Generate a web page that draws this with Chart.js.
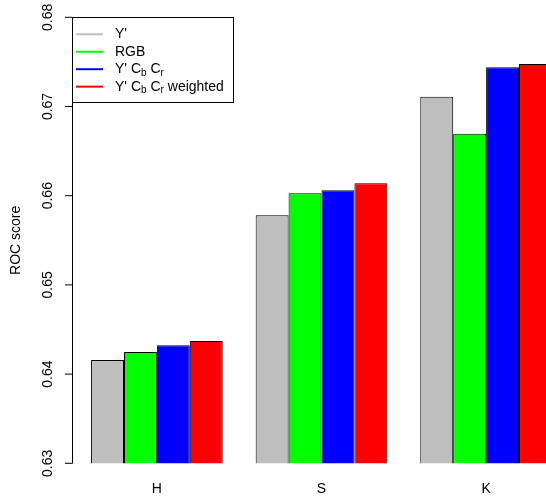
<!DOCTYPE html>
<html>
<head>
<meta charset="utf-8">
<script src="https://cdn.jsdelivr.net/npm/chart.js@4.4.0/dist/chart.umd.min.js"></script>
<style>
body { margin: 0; background: #fff; }
#wrap { width: 546px; height: 501px; }
</style>
</head>
<body>
<div id="wrap"><canvas id="rocChart" width="546" height="501"></canvas></div>
<script>
// data
var categories = ["H", "S", "K"];
var seriesNames = ["Y'", "RGB", "Y' C_b C_r", "Y' C_b C_r weighted"];
var seriesColors = ["#BEBEBE", "#00FF00", "#0000FF", "#FF0000"];
var yPrime = [0.64158, 0.65780, 0.67110];
var rgb = [0.64248, 0.66027, 0.66695];
var ycbcr = [0.64323, 0.66060, 0.67440];
var ycbcrWeighted = [0.64371, 0.66139, 0.67476];
var yTicks = [0.63, 0.64, 0.65, 0.66, 0.67, 0.68];
var yTitle = "ROC score";

var allSeries = [yPrime, rgb, ycbcr, ycbcrWeighted];
var fontFam = "'Liberation Sans', Arial, Helvetica, sans-serif";

// plot region runs past the right edge of the canvas (like the R plot)
var plotRight = 568.4;

var datasets = [];
for (var i = 0; i < allSeries.length; i++) {
    datasets.push({
        label: seriesNames[i],
        data: allSeries[i],
        backgroundColor: seriesColors[i],
        borderColor: "#000",
        borderWidth: 1,
        barPercentage: 1.0,
        categoryPercentage: 0.8
    });
}

// draws text where "_x" means x as a subscript
function drawRich(ctx, str, x, y) {
    var parts = str.split("_");
    ctx.font = "14px " + fontFam;
    ctx.fillText(parts[0], x, y);
    x += ctx.measureText(parts[0]).width;
    for (var k = 1; k < parts.length; k++) {
        var sub = parts[k].charAt(0);
        var rest = parts[k].substring(1);
        ctx.font = "10px " + fontFam;
        ctx.fillText(sub, x, y + 4);
        x += ctx.measureText(sub).width;
        ctx.font = "14px " + fontFam;
        ctx.fillText(rest, x, y);
        x += ctx.measureText(rest).width;
    }
}

// R style axis, title and legend
var rStyle = {
    id: "rStyle",
    afterLayout: function(chart) {
        var xs = chart.scales.x;
        chart.chartArea.right = plotRight;
        chart.chartArea.width = plotRight - chart.chartArea.left;
        xs.right = plotRight;
        xs.width = plotRight - xs.left;
        xs.configure();
    },
    afterDraw: function(chart) {
        var ctx = chart.ctx;
        var ys = chart.scales.y;
        var axX = 72.5;
        ctx.save();
        ctx.strokeStyle = "#000";
        ctx.fillStyle = "#000";
        ctx.lineWidth = 1;
        // axis line + ticks
        var top = ys.getPixelForValue(yTicks[yTicks.length - 1]);
        var bot = ys.getPixelForValue(yTicks[0]);
        ctx.beginPath();
        ctx.moveTo(axX, top);
        ctx.lineTo(axX, bot);
        for (var t = 0; t < yTicks.length; t++) {
            var py = ys.getPixelForValue(yTicks[t]);
            ctx.moveTo(axX, py);
            ctx.lineTo(axX - 7.5, py);
        }
        ctx.stroke();
        // tick labels, rotated
        ctx.font = "14px " + fontFam;
        ctx.textAlign = "center";
        ctx.textBaseline = "alphabetic";
        for (var t = 0; t < yTicks.length; t++) {
            var py = ys.getPixelForValue(yTicks[t]);
            ctx.save();
            ctx.translate(52.3, py);
            ctx.rotate(-Math.PI / 2);
            ctx.fillText(yTicks[t].toFixed(2), 0, 0);
            ctx.restore();
        }
        // axis title
        ctx.save();
        ctx.translate(20, (top + bot) / 2);
        ctx.rotate(-Math.PI / 2);
        ctx.fillText(yTitle, 0, 0);
        ctx.restore();

        // legend
        var lx = 72.5, ly = 17.5, lw = 161, lh = 85;
        ctx.fillStyle = "#fff";
        ctx.fillRect(lx, ly, lw, lh);
        ctx.strokeStyle = "#000";
        ctx.strokeRect(lx, ly, lw, lh);
        ctx.textAlign = "left";
        ctx.textBaseline = "middle";
        for (var s = 0; s < seriesNames.length; s++) {
            var rowY = 34.3 + s * 17.45;
            ctx.strokeStyle = seriesColors[s];
            ctx.lineWidth = 2;
            ctx.beginPath();
            ctx.moveTo(76, rowY);
            ctx.lineTo(103, rowY);
            ctx.stroke();
            ctx.fillStyle = "#000";
            drawRich(ctx, seriesNames[s], 115, rowY);
        }
        ctx.restore();
    }
};

var config = {
    type: "bar",
    data: {
        labels: categories,
        datasets: datasets
    },
    options: {
        responsive: false,
        animation: false,
        events: [],
        layout: {
            padding: { left: 74.6, right: 0, top: 17.3, bottom: 0 }
        },
        plugins: {
            legend: { display: false },
            tooltip: { enabled: false }
        },
        scales: {
            x: {
                grid: { display: false, drawTicks: false },
                border: { display: false },
                ticks: {
                    color: "#000",
                    padding: 17,
                    font: { family: fontFam, size: 14 }
                },
                afterFit: function(scale) { scale.height = 37.7; }
            },
            y: {
                display: false,
                min: 0.63,
                max: 0.68
            }
        }
    },
    plugins: [rStyle]
};

var myChart = new Chart(document.getElementById("rocChart"), config);
</script>
</body>
</html>
